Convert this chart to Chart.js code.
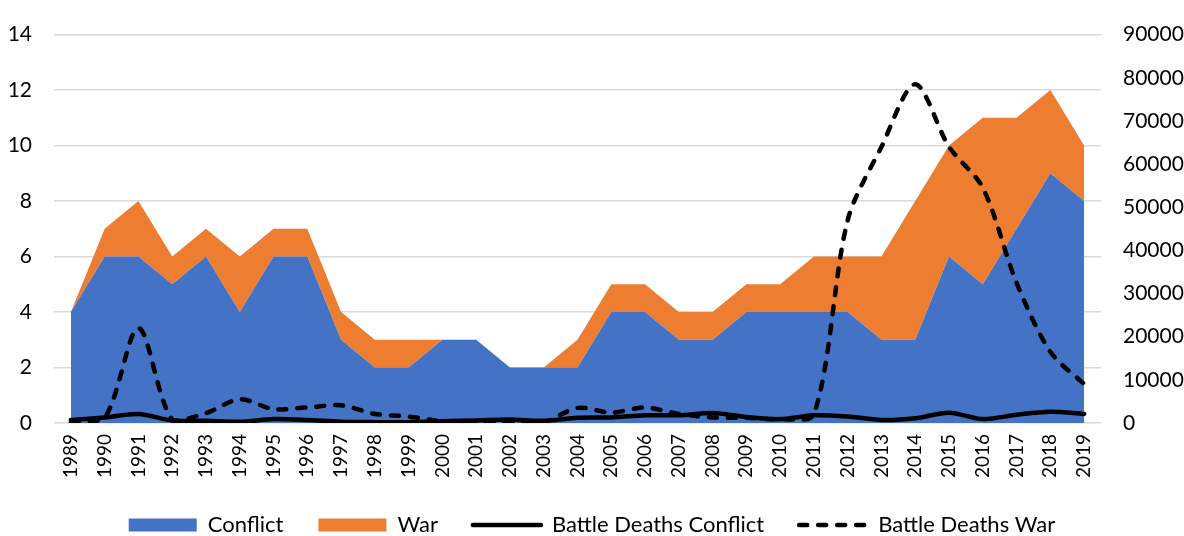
<!DOCTYPE html>
<html>
<head>
<meta charset="utf-8">
<script src="https://cdn.jsdelivr.net/npm/chart.js@4.4.1/dist/chart.umd.min.js"></script>
<style>
    html, body { margin: 0; padding: 0; background: #fff; }
    #wrap { width: 1184px; height: 536px; }
</style>
</head>
<body>
<div id="wrap"><canvas id="chart"></canvas></div>
<script>
// Data
const years = ['1989', '1990', '1991', '1992', '1993', '1994', '1995', '1996', '1997', '1998',
    '1999', '2000', '2001', '2002', '2003', '2004', '2005', '2006', '2007', '2008',
    '2009', '2010', '2011', '2012', '2013', '2014', '2015', '2016', '2017', '2018', '2019'];

// number of conflicts (left axis, stacked)
const conflict = [4, 6, 6, 5, 6, 4, 6, 6, 3, 2, 2, 3, 3, 2, 2, 2, 4, 4, 3, 3, 4, 4, 4, 4, 3, 3, 6, 5, 7, 9, 8];
const war = [0, 1, 2, 1, 1, 2, 1, 1, 1, 1, 1, 0, 0, 0, 0, 1, 1, 1, 1, 1, 1, 1, 2, 2, 3, 5, 4, 6, 4, 3, 2];

// battle deaths (right axis)
const deathsConflict = [700, 1300, 2100, 600, 500, 300, 900, 700, 300, 200, 200, 400, 600, 800, 500,
    1200, 1300, 1800, 1800, 2300, 1400, 900, 1800, 1500, 700, 1100, 2400, 900, 1900, 2600, 2100];
const deathsWar = [200, 1200, 22000, 800, 2300, 5500, 3200, 3600, 4100, 2100, 1500, 400, 200, 200, 200,
    3500, 2400, 3600, 2100, 1300, 1200, 900, 2000, 47000, 64000, 78500, 64000, 54500, 32500, 16500, 9000];

const leftTicks = [0, 2, 4, 6, 8, 10, 12, 14];
const rightTicks = [0, 10000, 20000, 30000, 40000, 50000, 60000, 70000, 80000, 90000];

const BLUE = '#4472C4';
const ORANGE = '#ED7D31';
const FONT = 'Lato, "Open Sans", sans-serif';

const ctx = document.getElementById('chart').getContext('2d');

// note: stacking follows "order", so Conflict must have the lower order of the two areas
new Chart(ctx, {
    type: 'line',
    data: {
        labels: years,
        datasets: [
            {
                label: 'Conflict',
                data: conflict,
                yAxisID: 'y',
                backgroundColor: BLUE,
                borderColor: BLUE,
                borderWidth: 0,
                pointRadius: 0,
                tension: 0,
                fill: 'origin',
                order: 2
            },
            {
                label: 'War',
                data: war,
                yAxisID: 'y',
                backgroundColor: ORANGE,
                borderColor: ORANGE,
                borderWidth: 0,
                pointRadius: 0,
                tension: 0,
                fill: '-1',
                order: 3
            },
            {
                label: 'Battle Deaths Conflict',
                data: deathsConflict,
                yAxisID: 'y1',
                borderColor: '#000',
                borderWidth: 4.5,
                borderCapStyle: 'round',
                borderJoinStyle: 'round',
                tension: 0.3,
                pointRadius: 0,
                fill: false,
                order: 0
            },
            {
                label: 'Battle Deaths War',
                data: deathsWar,
                yAxisID: 'y1',
                borderColor: '#000',
                borderWidth: 4.5,
                borderDash: [8, 11],
                borderCapStyle: 'round',
                borderJoinStyle: 'round',
                tension: 0.3,
                pointRadius: 0,
                fill: false,
                order: 1
            }
        ]
    },
    options: {
        responsive: true,
        maintainAspectRatio: false,
        animation: false,
        layout: {
            padding: { top: 25, left: 0, right: 0, bottom: 0 }
        },
        scales: {
            x: {
                offset: true,
                grid: { display: false, drawTicks: false },
                border: { display: false },
                ticks: {
                    color: '#000',
                    font: { family: FONT, size: 19 },
                    minRotation: 90,
                    maxRotation: 90,
                    autoSkip: false,
                    padding: 11
                },
                afterFit: scale => { scale.height = 56; }
            },
            y: {
                position: 'left',
                stacked: true,
                min: 0,
                max: 14,
                afterBuildTicks: scale => { scale.ticks = leftTicks.map(v => ({ value: v })); },
                grid: { color: '#d9d9d9', lineWidth: 1.5, drawTicks: false },
                border: { display: false },
                ticks: {
                    color: '#000',
                    font: { family: FONT, size: 21 },
                    padding: 22
                },
                afterFit: scale => { scale.width = 54; }
            },
            y1: {
                position: 'right',
                min: 0,
                max: 90000,
                afterBuildTicks: scale => { scale.ticks = rightTicks.map(v => ({ value: v })); },
                grid: { display: false, drawTicks: false },
                border: { display: false },
                ticks: {
                    color: '#000',
                    font: { family: FONT, size: 21 },
                    padding: 22,
                    callback: value => String(value)
                },
                afterFit: scale => { scale.width = 83; }
            }
        },
        plugins: {
            tooltip: { enabled: false },
            legend: {
                position: 'bottom',
                maxHeight: 57,
                labels: {
                    color: '#000',
                    font: { family: FONT, size: 22 },
                    usePointStyle: true,
                    pointStyleWidth: 68,
                    boxHeight: 13,
                    padding: 35,
                    generateLabels: chart => chart.data.datasets.map((ds, i) => {
                        const isLine = ds.fill === false;
                        return {
                            text: ds.label,
                            datasetIndex: i,
                            fillStyle: isLine ? 'rgba(0,0,0,0)' : ds.backgroundColor,
                            strokeStyle: isLine ? '#000' : ds.backgroundColor,
                            lineWidth: isLine ? 4.5 : 0,
                            lineDash: ds.borderDash || [],
                            lineCap: isLine ? 'round' : 'butt',
                            pointStyle: isLine ? 'line' : 'rect',
                            fontColor: '#000',
                            hidden: false
                        };
                    })
                }
            }
        }
    }
});
</script>
</body>
</html>
